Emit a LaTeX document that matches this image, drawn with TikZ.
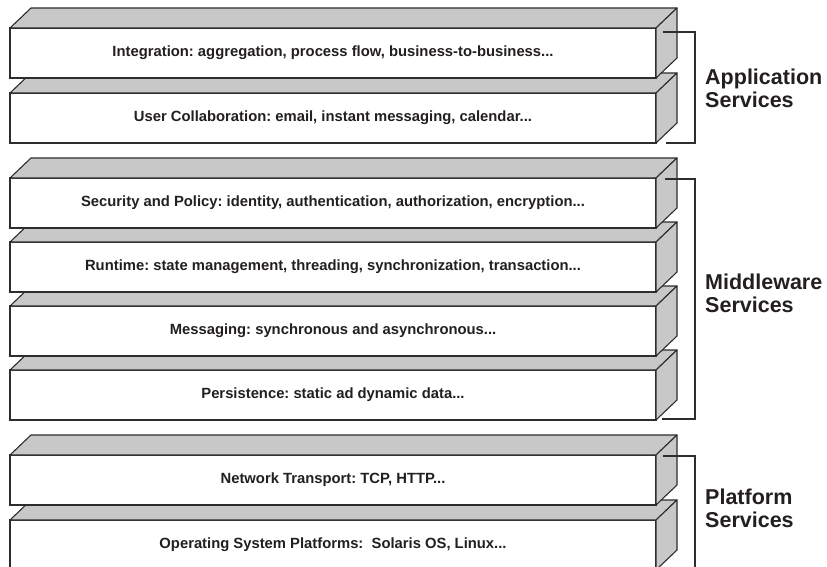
\documentclass[tikz,border=0pt]{standalone}
\usepackage{fontspec}
\setmainfont{Liberation Sans}
\usetikzlibrary{calc}
\frenchspacing

\definecolor{facegray}{RGB}{200,200,200}
\definecolor{edgegray}{RGB}{45,45,45}
\definecolor{inkgray}{RGB}{35,31,32}

\tikzset{
  layerfront/.style={draw=edgegray, fill=white, line width=1.1pt,
    minimum width=646pt, minimum height=50pt, inner sep=0pt, outer sep=0pt,
    font=\fontsize{14.8}{17}\selectfont\bfseries, text=inkgray},
  layerside/.style={draw=edgegray, fill=facegray, line width=1.1pt, line join=round},
  bracket/.style={draw=edgegray, line width=1.1pt},
  grouplabel/.style={anchor=west, align=left, inner sep=0pt,
    font=\fontsize{21.5}{23}\selectfont\bfseries, text=inkgray}
}

% one slab of the stack: front face node plus its top and right faces
\newcommand\stacklayer[3]{%
  \node[layerfront] (#1) at (333,#2+25) {#3};
  \path[layerside] (#1.north west) -- ++(21,-20)
    -- ($(#1.north east)+(21,-20)$) -- (#1.north east) -- cycle;
  \path[layerside] (#1.north east) -- ++(21,-20)
    -- ($(#1.south east)+(21,-20)$) -- (#1.south east) -- cycle;
}

\begin{document}
\begin{tikzpicture}[x=1pt, y=-1pt]
  \useasboundingbox (0,0) rectangle (827,567);
  \clip (0,0) rectangle (827,567);

  % slabs are drawn from the bottom up so each one overlaps the one below
  \stacklayer{os}{520}{Operating System Platforms:\ \ Solaris OS, Linux...}
  \stacklayer{net}{455}{Network Transport: TCP, HTTP...}

  \stacklayer{persist}{370}{Persistence: static ad dynamic data...}
  \stacklayer{msg}{306}{Messaging: synchronous and asynchronous...}
  \stacklayer{runtime}{242}{Runtime: state management, threading, synchronization, transaction...}
  \stacklayer{security}{178}{Security and Policy: identity, authentication, authorization, encryption...}

  \stacklayer{collab}{93}{User Collaboration: email, instant messaging, calendar...}
  \stacklayer{integ}{28}{Integration: aggregation, process flow, business-to-business...}

  % group brackets
  \coordinate (apptop) at ($(integ.north east)+(7,4)$);
  \coordinate (appbot) at ($(collab.south east)+(10,0)$);
  \draw[bracket] (apptop) -- ++(32,0) |- (appbot);

  \coordinate (midtop) at ($(security.north east)+(9,1)$);
  \coordinate (midbot) at ($(persist.south east)+(6,-1)$);
  \draw[bracket] (midtop) -- ++(30,0) |- (midbot);

  \coordinate (plattop) at ($(net.north east)+(7,1)$);
  \coordinate (platbot) at ($(os.south east)+(39,10)$);
  \draw[bracket] (plattop) -- ++(32,0) -- (platbot);

  % group labels
  \node[grouplabel] (applbl) at (705,88) {Application\\Services};
  \node[grouplabel] (midlbl) at (705,293) {Middleware\\Services};
  \node[grouplabel] (platlbl) at (705,508) {Platform\\Services};
\end{tikzpicture}
\end{document}
